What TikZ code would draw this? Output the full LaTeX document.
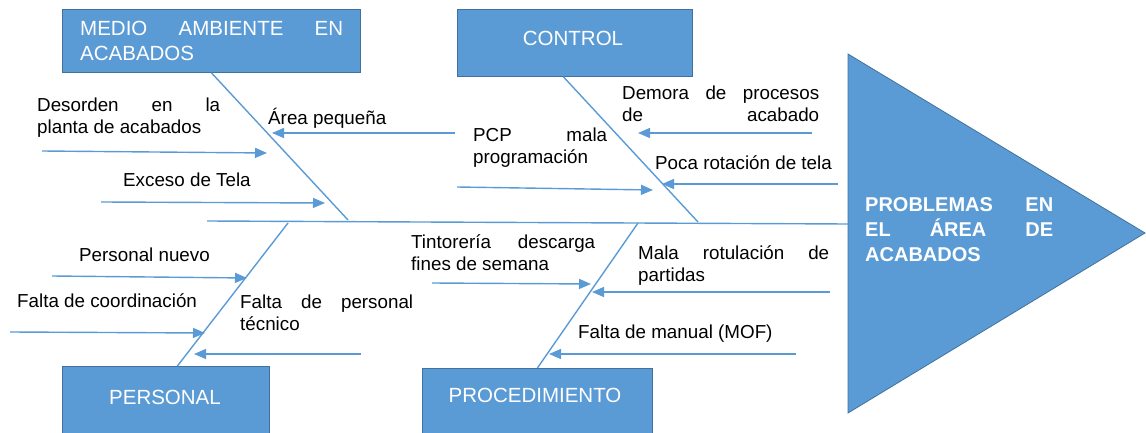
\documentclass[tikz,border=0pt]{standalone}
\usepackage{fontspec}
\setmainfont{Liberation Sans}
\usetikzlibrary{arrows.meta}
\definecolor{fishblue}{HTML}{5B9BD5}
\definecolor{fishedge}{HTML}{41719C}
\begin{document}
\begin{tikzpicture}[x=1pt,y=-1pt,
  bone/.style={draw=fishblue, line width=1.4pt},
  cause/.style={draw=fishblue, line width=1.4pt, -{Triangle[length=12pt,width=10pt]}},
  catbox/.style={draw=fishedge, fill=fishblue, line width=0.8pt, anchor=north west, inner sep=0pt},
  cattext/.style={text=white, font=\fontsize{20.5}{25}\selectfont, inner sep=0pt},
  headtext/.style={text=white, font=\bfseries\fontsize{20}{25}\selectfont, inner sep=0pt, anchor=west, align=left},
  lbl/.style={font=\fontsize{18.8}{22}\selectfont, inner sep=0pt, anchor=west, align=left},
]
\useasboundingbox (0,0) rectangle (1146,433);

% head
\draw[draw=fishedge, fill=fishblue, line width=0.8pt] (848,54) -- (1145,233) -- (848,413) -- cycle;
\node[headtext] (prob) at (865,230) {\makebox[188pt][s]{PROBLEMAS EN}\\\makebox[188pt][s]{EL ÁREA DE}\\ACABADOS};

% category boxes
\node[catbox, minimum width=298pt, minimum height=63pt] (ma) at (62,9) {};
\node[cattext, anchor=west, align=left] (matxt) at (80,41) {\makebox[263pt][s]{MEDIO AMBIENTE EN}\\ACABADOS};
\node[catbox, minimum width=235pt, minimum height=67pt] (ctrl) at (457,9) {};
\node[cattext] (ctrltxt) at (573,38) {CONTROL};
\node[catbox, minimum width=207pt, minimum height=75pt] (pers) at (62,366) {};
\node[cattext] (perstxt) at (165,397) {PERSONAL};
\node[catbox, minimum width=230pt, minimum height=75pt] (proc) at (422,368) {};
\node[cattext] (proctxt) at (535,395) {PROCEDIMIENTO};

% spine
\coordinate (tail) at (207,221);
\coordinate (head) at (848,224);
\draw[bone] (tail) -- (head);

% bones
\coordinate (maj) at (348,220);
\coordinate (ctj) at (698,222);
\coordinate (pej) at (288,223);
\coordinate (prj) at (638,223);
\draw[bone] (ma.south) -- (maj);
\draw[bone] ([xshift=-11.5pt]ctrl.south) -- (ctj);
\draw[bone] (pej) -- ([xshift=11.5pt]pers.north);
\draw[bone] (prj) -- (proc.north);

% labels
\node[lbl] (l1) at (37,117.5) {\makebox[183pt][s]{Desorden en la}\\planta de acabados};
\node[lbl] (l2) at (268,118) {Área pequeña};
\node[lbl] (l3) at (123,180) {Exceso de Tela};
\node[lbl] (l4) at (473,148) {\makebox[134pt][s]{PCP mala}\\programación};
\node[lbl] (l5) at (622,103.5) {\makebox[197pt][s]{Demora de procesos}\\\makebox[197pt][s]{de acabado}};
\node[lbl] (l6) at (655,163) {Poca rotación de tela};
\node[lbl] (l7) at (79,255) {Personal nuevo};
\node[lbl] (l8) at (17,301) {Falta de coordinación};
\node[lbl] (l9) at (240,312.5) {\makebox[173pt][s]{Falta de personal}\\técnico};
\node[lbl] (l10) at (411,253) {\makebox[184pt][s]{Tintorería descarga}\\fines de semana};
\node[lbl] (l11) at (638,266) {\makebox[191pt][s]{Mala rotulación de}\\partidas};
\node[lbl] (l12) at (578,334) {Falta de manual (MOF)};

% cause arrows
\coordinate (a1s) at (42,151);   \coordinate (a1e) at (267,153);
\coordinate (a2s) at (455,133);  \coordinate (a2e) at (272,133);
\coordinate (a3s) at (101,202);  \coordinate (a3e) at (325,203);
\coordinate (a4s) at (457,187);  \coordinate (a4e) at (653,190);
\coordinate (a5s) at (812,133);  \coordinate (a5e) at (638,133);
\coordinate (a6s) at (838,184);  \coordinate (a6e) at (662,184);
\coordinate (a7s) at (52,276);   \coordinate (a7e) at (247,278);
\coordinate (a8s) at (10,332);   \coordinate (a8e) at (205,333);
\coordinate (a9s) at (361,354);  \coordinate (a9e) at (194,354);
\coordinate (a10s) at (432,283); \coordinate (a10e) at (591,284);
\coordinate (a11s) at (830,292); \coordinate (a11e) at (592,292);
\coordinate (a12s) at (796,354); \coordinate (a12e) at (549,354);
\foreach \i in {1,...,12} {\draw[cause] (a\i s) -- (a\i e);}
\end{tikzpicture}
\end{document}
